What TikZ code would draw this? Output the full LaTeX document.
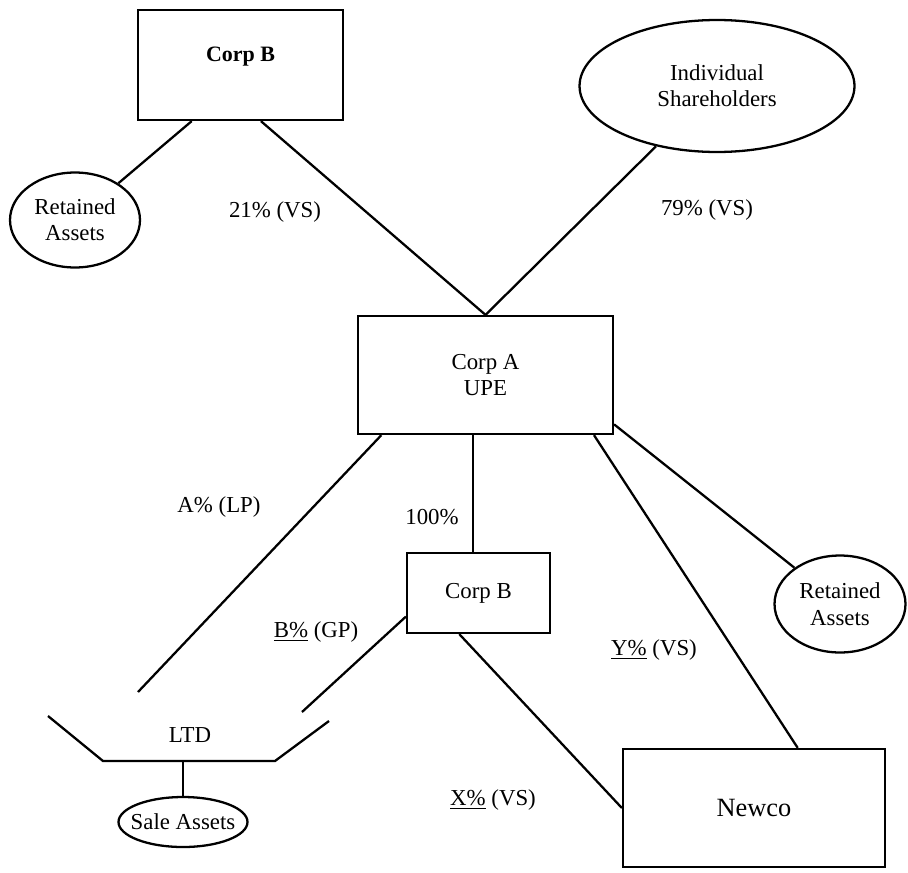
\documentclass[tikz,border=0pt]{standalone}
\usepackage{fontspec}
\setmainfont{Liberation Serif}
\usetikzlibrary{shapes.geometric}

\begin{document}
\begin{tikzpicture}[x=0.02cm, y=-0.02cm, line width=1.3pt,
  every node/.style={font=\fontsize{13}{15}\selectfont},
  box/.style={draw, rectangle, inner sep=0pt},
  oval/.style={draw, ellipse, inner sep=0pt}]
  \useasboundingbox (0,0) rectangle (908,872);

  % owners
  \node[box, minimum width=4.1cm, minimum height=2.2cm] (topb) at (240.5,65) {};
  \node[font=\fontsize{12.5}{14}\selectfont\bfseries] (topbtxt) at (240.5,57) {Corp B};
  \node[oval, minimum width=2.6cm, minimum height=1.9cm,
    label={[align=center]center:Retained\\Assets}] (retl) at (75,220) {};
  \node[oval, minimum width=5.5cm, minimum height=2.64cm,
    label={[align=center]center:Individual\\Shareholders}] (indiv) at (717,86) {};

  % parent
  \node[box, align=center, minimum width=5.1cm, minimum height=2.36cm] (corpa) at (485.5,375) {Corp A\\UPE};
  \node[oval, minimum width=2.62cm, minimum height=1.94cm,
    label={[align=center]center:Retained\\Assets}] (retr) at (840,604) {};

  % subsidiaries
  \node[box, minimum width=2.86cm, minimum height=1.6cm] (lowb) at (478.5,593) {Corp B};
  \node[box, minimum width=5.24cm, minimum height=2.36cm,
    font=\fontsize{15}{17}\selectfont] (newco) at (754,808) {Newco};

  % partnership
  \draw (48,716) -- (103,761) -- (275,761) -- (329,721);
  \node (ltd) at (190,735) {LTD};
  \coordinate (ltdbase) at (183,761);
  \coordinate (lpend) at (138,692);
  \coordinate (gpend) at (302,712);
  \node[oval, minimum width=2.58cm, minimum height=1cm,
    label={center:Sale Assets}] (sale) at (183,822) {};

  % connectors
  \draw (topb.-131) -- (retl);
  \draw (topb.-70) -- (corpa.north);
  \draw (corpa.north) -- (indiv);
  \draw (corpa.-150) -- (lpend);
  \draw (corpa.-102) -- (corpa.-102 |- lowb.north);
  \draw (corpa.-29.5) -- (newco.54);
  \draw (corpa.-21) -- (retr);
  \draw (lowb.-162) -- (gpend);
  \draw (lowb.-115) -- (newco.west);
  \draw (ltdbase) -- (sale);

  % stakes
  \node (s21) at (275,212) {21\% (VS)};
  \node (s79) at (707,210) {79\% (VS)};
  \node (sa) at (219,507) {A\% (LP)};
  \node (s100) at (432,517) {100\%};
  \node (sb) at (316,632) {\underline{B\%} (GP)};
  \node (sy) at (654,650) {\underline{Y\%} (VS)};
  \node (sx) at (493,800) {\underline{X\%} (VS)};
\end{tikzpicture}
\end{document}
